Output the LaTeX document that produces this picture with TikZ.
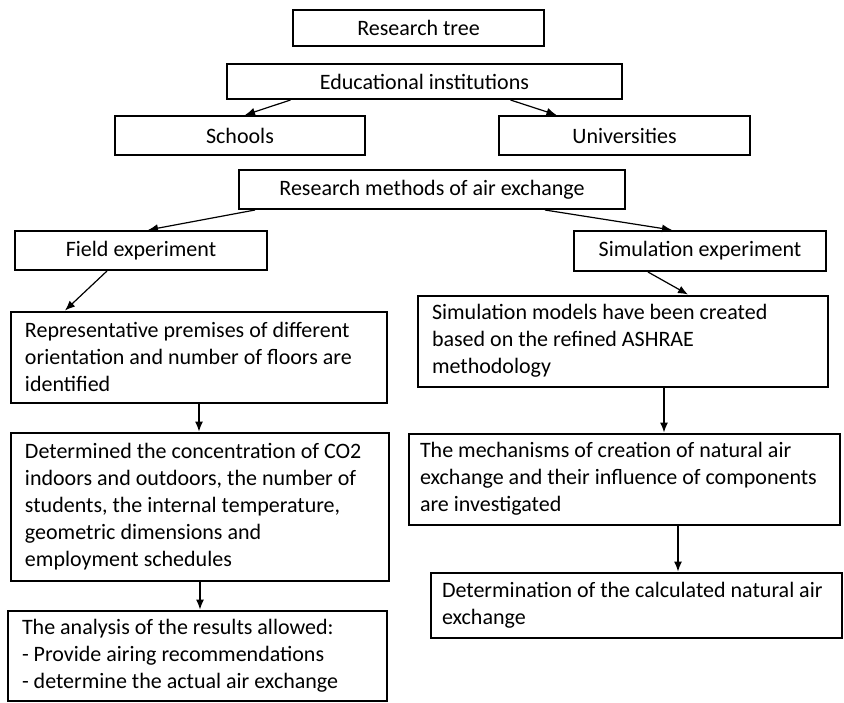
\documentclass[tikz,border=0pt]{standalone}
\usepackage{fontspec}
\setmainfont{Carlito}
\usepackage{tikz}
\usetikzlibrary{arrows.meta}
\hyphenpenalty=10000
\exhyphenpenalty=10000

\begin{document}
\begin{tikzpicture}[x=0.5pt,y=-0.5pt,
  every node/.style={font=\fontsize{11pt}{13.5pt}\selectfont},
  headbox/.style={draw, rectangle, line width=1pt, inner sep=0pt, align=center},
  textbox/.style={draw, rectangle, line width=1pt, inner xsep=7pt, inner ysep=0pt, align=flush left},
  arr/.style={-{Latex[length=5pt,width=4pt]}, line width=0.6pt}]
\useasboundingbox (0,0) rectangle (844,702);

\node[headbox, minimum width=125.5pt, minimum height=18pt] (tree) at (418.5,28) {Research tree};
\node[headbox, minimum width=197.5pt, minimum height=17.5pt] (edu) at (424.5,81.5) {Educational institutions};
\node[headbox, minimum width=125pt, minimum height=19.5pt] (schools) at (240,135.5) {Schools};
\node[headbox, minimum width=125.5pt, minimum height=19.5pt] (univ) at (624.5,135.5) {Universities};
\node[headbox, minimum width=193pt, minimum height=19.5pt] (methods) at (432,189.5) {Research methods of air exchange};
\node[headbox, minimum width=126pt, minimum height=19.5pt] (field) at (141,250.5) {Field experiment};
\node[headbox, minimum width=126pt, minimum height=20pt] (simexp) at (700,251) {Simulation experiment};

\node[textbox, text width=174pt, minimum height=45.5pt] (premises) at (199,357) {Representative premises of different\\orientation and number of floors are\\identified};
\node[textbox, text width=175pt, minimum height=74pt] (determined) at (200,506.5) {Determined the concentration of CO2\\indoors and outdoors, the number of\\students, the internal temperature,\\geometric dimensions and\\employment schedules};
\node[textbox, text width=175.5pt, minimum height=45pt] (analysis) at (197.5,655.5) {The analysis of the results allowed:\\- Provide airing recommendations\\- determine the actual air exchange};

\node[textbox, text width=191pt, minimum height=45.5pt] (models) at (623,341) {Simulation models have been created\\based on the refined ASHRAE\\methodology};
\node[textbox, text width=204.5pt, inner xsep=5.5pt, minimum height=45.5pt] (mechanisms) at (624.5,479) {The mechanisms of creation of natural air\\exchange and their influence of components\\are investigated};
\node[textbox, text width=194.5pt, inner xsep=5.5pt, minimum height=32.5pt] (calc) at (636.5,605) {Determination of the calculated natural air\\exchange};

\draw[arr] ([xshift=-67pt]edu.south) -- ([xshift=2.5pt]schools.north);
\draw[arr] ([xshift=43pt]edu.south) -- ([xshift=-34pt]univ.north);
\draw[arr] ([xshift=-88.5pt]methods.south) -- ([xshift=3.5pt]field.north);
\draw[arr] ([xshift=56.5pt]methods.south) -- ([xshift=-14pt]simexp.north);
\draw[arr] ([xshift=-17pt]field.south) -- ([xshift=-67pt]premises.north);
\draw[arr] ([xshift=-26pt]simexp.south) -- ([xshift=32.5pt]models.north);

\draw[arr] (premises.south) -- (premises.south |- determined.north);
\draw[arr] (determined.south) -- (determined.south |- analysis.north);
\coordinate (m1) at ([xshift=20.5pt]models.south);
\coordinate (m2) at ([xshift=26.75pt]mechanisms.south);
\draw[arr] (m1) -- (m1 |- mechanisms.north);
\draw[arr] (m2) -- (m2 |- calc.north);
\end{tikzpicture}
\end{document}
